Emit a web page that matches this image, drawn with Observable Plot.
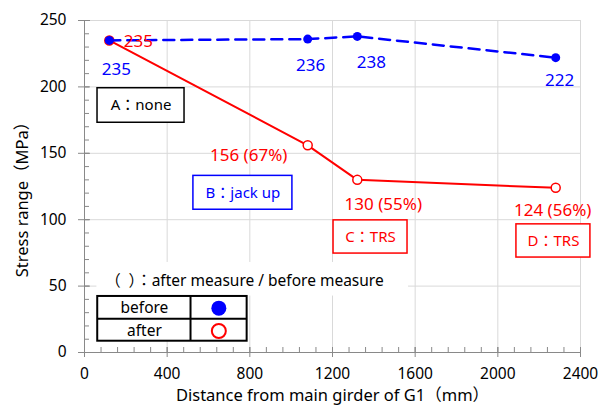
<!DOCTYPE html>
<html><head><meta charset="utf-8">
<script src="https://cdn.jsdelivr.net/npm/d3@7"></script>
<script src="https://cdn.jsdelivr.net/npm/@observablehq/plot@0.6"></script>
<style>body{margin:0;background:#fff}</style>
</head><body><div id="chart"></div>
<script>
// ---- data ----
const distance = [120, 1080, 1320, 2280];
const beforeValues = [235, 236, 238, 222];
const afterValues = [235, 156, 130, 124];
const beforeLabels = ["235", "236", "238", "222"];
const afterLabels = ["235", "156 (67%)", "130 (55%)", "124 (56%)"];
const xTicks = [0, 400, 800, 1200, 1600, 2000, 2400];
const yTicks = [0, 50, 100, 150, 200, 250];
const xMinor = d3.range(0, 2401, 80);
const yMinor = d3.range(0, 251, 10);
const caseLabels = ["A：none", "B：jack up", "C：TRS", "D：TRS"];
const legendRows = ["before", "after"];
const noteText = "（\u2002）：after measure / before measure";
const xTitle = "Distance from main girder of G1（mm）";
const yTitle = "Stress range（MPa）";

// ---- annotation layout (data units) ----
const caseBoxes = [
  {x1: 63, x2: 484, y1: 173, y2: 199},
  {x1: 527, x2: 1006, y1: 107.5, y2: 133},
  {x1: 1205, x2: 1563, y1: 74.5, y2: 99.5},
  {x1: 2090, x2: 2448, y1: 71.5, y2: 96.5}
].map((b, i) => ({...b, label: caseLabels[i], cx: (b.x1 + b.x2) / 2, cy: (b.y1 + b.y2) / 2}));
const caseColors = ["#000000", "#0000ff", "#ff0000", "#ff0000"];
const noteBox = [{x1: 60, x2: 1568, y1: 42.5, y2: 67.8, tx: 100, ty: 53.5, text: noteText}];
const tableBox = [{x1: 64, x2: 787, y1: 8.5, y2: 42.2}];
const tableRowY = [33.4, 16.2];
const tableRows = legendRows.map((t, i) => ({t, x: 290, sx: 650, y: tableRowY[i]}));

const blue = "#0000ff", red = "#ff0000";
const series = distance.map((x, i) => ({x, before: beforeValues[i], after: afterValues[i], bl: beforeLabels[i], al: afterLabels[i]}));
const beforeOff = [[7, 29], [3, 26], [14, 26], [4, 23]];
const afterOff = [[29, 1], [-59, 10], [26, 25], [-3, 23]];

const axisColor = "#898989", gridColor = "#d9d9d9";
const fmt = d3.format("d");

const chart = Plot.plot({
  width: 605, height: 408,
  marginLeft: 84, marginRight: 25, marginTop: 20, marginBottom: 56,
  style: {fontFamily: "'Noto Sans', 'Noto Sans CJK JP', sans-serif", fontSize: "15px", color: "#000", background: "#fff"},
  x: {domain: [0, 2400]},
  y: {domain: [0, 250]},
  marks: [
    Plot.gridX(xTicks.slice(1), {stroke: gridColor, strokeOpacity: 1}),
    Plot.gridY(yTicks.slice(1), {stroke: gridColor, strokeOpacity: 1}),
    // note with white background
    Plot.rect(noteBox, {x1: "x1", x2: "x2", y1: "y1", y2: "y2", fill: "white"}),
    Plot.text(noteBox, {x: "tx", y: "ty", text: "text", textAnchor: "start", fontSize: 15.5, fill: "#000"}),
    // legend table
    Plot.rect(tableBox, {x1: "x1", x2: "x2", y1: "y1", y2: "y2", fill: "white", stroke: "#000", strokeWidth: 2}),
    Plot.ruleY(tableBox, {y: d => (d.y1 + d.y2) / 2, x1: "x1", x2: "x2", stroke: "#000", strokeWidth: 2}),
    Plot.ruleX(tableBox, {x: 513, y1: "y1", y2: "y2", stroke: "#000", strokeWidth: 2}),
    Plot.text(tableRows, {x: "x", y: "y", text: "t", fontSize: 15.5, fill: "#000"}),
    Plot.dot(tableRows.slice(0, 1), {x: "sx", y: "y", r: 7.5, fill: blue}),
    Plot.dot(tableRows.slice(1), {x: "sx", y: "y", r: 7, fill: "white", stroke: red, strokeWidth: 2}),
    // case boxes
    Plot.rect(caseBoxes, {x1: "x1", x2: "x2", y1: "y1", y2: "y2", fill: "white", stroke: (d, i) => caseColors[i], strokeWidth: 1.5}),
    Plot.text(caseBoxes, {x: "cx", y: "cy", text: "label", fill: (d, i) => caseColors[i], fontSize: 15}),
    // axes lines
    Plot.ruleY([0], {stroke: axisColor}),
    Plot.ruleX([0], {stroke: axisColor}),
    Plot.axisX({ticks: xMinor, tickSize: 5, dy: -5, fill: "none", stroke: axisColor, label: null}),
    Plot.axisX({ticks: xTicks, tickSize: 10, dy: -5, tickPadding: 10, tickFormat: fmt, stroke: axisColor, fill: "#000", fontSize: 15.5, label: null}),
    Plot.axisY({ticks: yMinor, tickSize: 5, dx: 5, fill: "none", stroke: axisColor, label: null}),
    Plot.axisY({ticks: yTicks, tickSize: 12, dx: 6, tickPadding: 12, tickFormat: fmt, stroke: axisColor, fill: "#000", fontSize: 15.5, label: null}),
    Plot.text([xTitle], {frameAnchor: "bottom", textAnchor: "middle", dy: 48, fontSize: 16.5, fill: "#000"}),
    Plot.text([yTitle], {frameAnchor: "left", textAnchor: "middle", rotate: -90, dx: -62, dy: 9, fontSize: 16.5, fill: "#000"}),
    // series
    Plot.line(series, {x: "x", y: "after", stroke: red, strokeWidth: 2}),
    Plot.dot(series, {x: "x", y: "after", r: 4.5, fill: "white", stroke: red, strokeWidth: 1.5}),
    Plot.line(series, {x: "x", y: "before", stroke: blue, strokeWidth: 2.5, strokeDasharray: "11,7"}),
    Plot.dot(series, {x: "x", y: "before", r: 4.5, fill: blue}),
    series.map((d, i) => Plot.text([d], {x: "x", y: "before", text: "bl", dx: beforeOff[i][0], dy: beforeOff[i][1], fill: blue, fontSize: 17})),
    series.map((d, i) => Plot.text([d], {x: "x", y: "after", text: "al", dx: afterOff[i][0], dy: afterOff[i][1], fill: red, fontSize: 17}))
  ]
});
document.getElementById("chart").appendChild(chart);
</script>
</body></html>
